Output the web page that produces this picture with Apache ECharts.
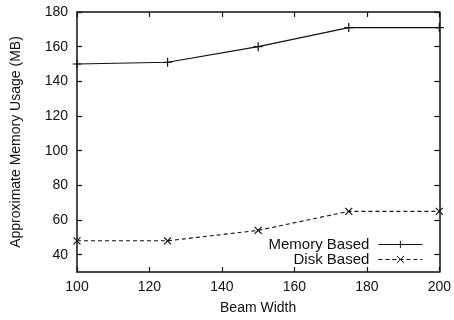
<!DOCTYPE html>
<html>
<head>
<meta charset="utf-8">
<script src="https://cdn.jsdelivr.net/npm/echarts@6/dist/echarts.min.js"></script>
<style>
  html, body { margin: 0; padding: 0; background: #fff; }
  #main { width: 454px; height: 320px; }
</style>
</head>
<body>
<div id="main"></div>
<script>
var beamWidth = [100, 125, 150, 175, 200];
var memoryBased = [150, 151, 160, 171, 171];
var diskBased = [48, 48, 54, 65, 65];
var yTicks = [40, 60, 80, 100, 120, 140, 160, 180];

var font = 'Liberation Sans, Arial, sans-serif';
var plus = 'path://M0,-1L0,1M-1,0L1,0';
var cross = 'path://M-1,-1L1,1M-1,1L1,-1';

function pairs(xs, ys) {
  var out = [];
  for (var i = 0; i < xs.length; i++) out.push([xs[i], ys[i]]);
  return out;
}

var myChart = echarts.init(document.getElementById('main'));

var axisLine = { lineStyle: { color: '#111', width: 1.5 } };
var tick = { inside: true, length: 5, lineStyle: { color: '#111', width: 1.2 } };

myChart.setOption({
  animation: false,
  backgroundColor: '#fff',
  grid: { left: 77, right: 14, top: 12, bottom: 45 },
  legend: {
    right: 26,
    bottom: 48,
    orient: 'vertical',
    align: 'right',
    itemGap: 0,
    itemWidth: 44,
    itemHeight: 9,
    lineStyle: { width: 1.2 },
    itemStyle: { borderWidth: 1 },
    textStyle: { fontFamily: font, fontSize: 15, color: '#111', padding: [0, 4, 0, 0] },
    data: ['Memory Based', 'Disk Based']
  },
  xAxis: [{
    type: 'value',
    min: 100,
    max: 200,
    interval: 20,
    name: 'Beam Width',
    nameLocation: 'middle',
    nameGap: 29,
    nameTextStyle: { fontFamily: font, fontSize: 14, color: '#111' },
    axisLine: axisLine,
    axisTick: tick,
    splitLine: { show: false },
    axisLabel: { fontFamily: font, fontSize: 14, color: '#111', margin: 8 }
  }, {
    type: 'value',
    position: 'top',
    min: 100,
    max: 200,
    interval: 20,
    axisLine: axisLine,
    axisTick: tick,
    splitLine: { show: false },
    axisLabel: { show: false }
  }],
  yAxis: [{
    type: 'value',
    min: 30,
    max: 180,
    name: 'Approximate Memory Usage (MB)',
    nameLocation: 'middle',
    nameGap: 54,
    nameTextStyle: { fontFamily: font, fontSize: 14, color: '#111' },
    axisLine: { show: true, lineStyle: { color: '#111', width: 1.5 } },
    axisTick: { show: true, inside: true, length: 5, lineStyle: { color: '#111', width: 1.2 }, customValues: yTicks },
    splitLine: { show: false },
    axisLabel: { fontFamily: font, fontSize: 14, color: '#111', margin: 9, customValues: yTicks }
  }, {
    type: 'value',
    position: 'right',
    min: 30,
    max: 180,
    axisLine: { show: true, lineStyle: { color: '#111', width: 1.5 } },
    axisTick: { show: true, inside: true, length: 5, lineStyle: { color: '#111', width: 1.2 }, customValues: yTicks },
    splitLine: { show: false },
    axisLabel: { show: false, customValues: yTicks }
  }],
  series: [{
    name: 'Memory Based',
    type: 'line',
    data: pairs(beamWidth, memoryBased),
    symbol: plus,
    symbolSize: 9,
    showSymbol: true,
    lineStyle: { color: '#111', width: 1.2 },
    itemStyle: { color: 'transparent', borderColor: '#111', borderWidth: 1.2 }
  }, {
    name: 'Disk Based',
    type: 'line',
    data: pairs(beamWidth, diskBased),
    symbol: cross,
    symbolSize: 7,
    showSymbol: true,
    lineStyle: { color: '#111', width: 1.1, type: [4, 3] },
    itemStyle: { color: 'transparent', borderColor: '#111', borderWidth: 1.2 }
  }]
});
</script>
</body>
</html>
